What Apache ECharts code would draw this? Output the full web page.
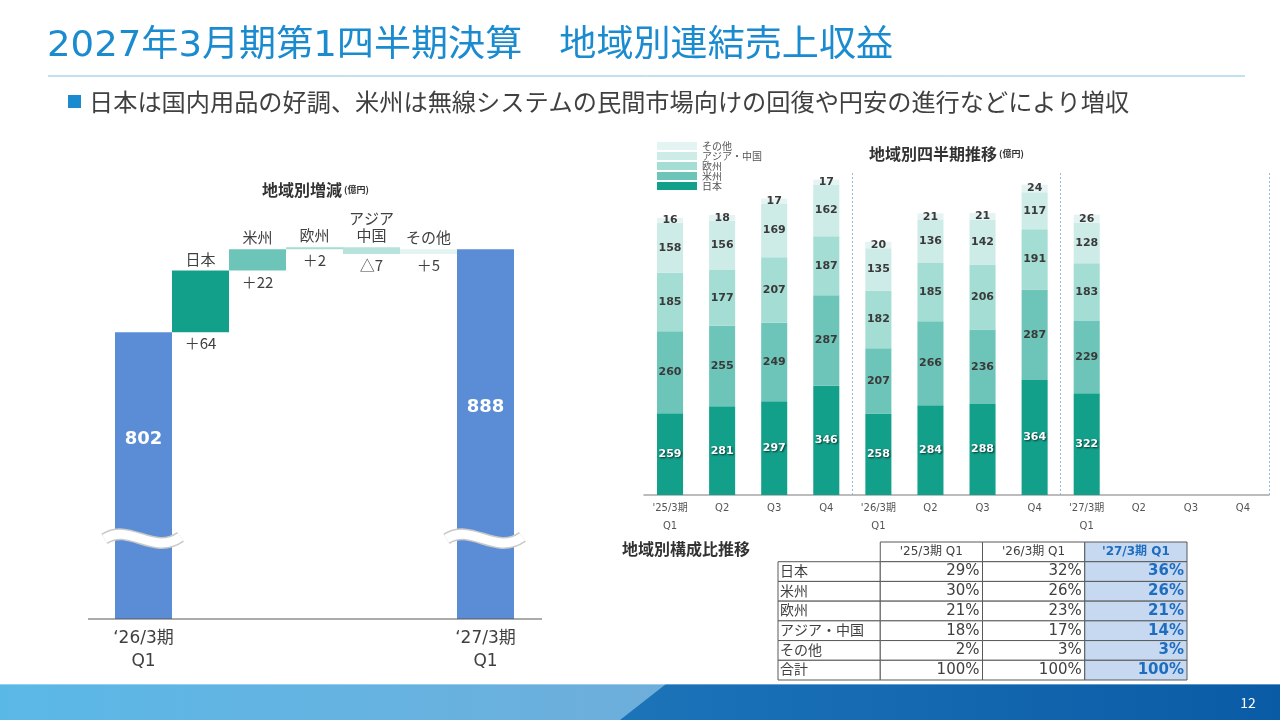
<!DOCTYPE html>
<html>
<head>
<meta charset="utf-8">
<script src="https://cdn.jsdelivr.net/npm/echarts@6/dist/echarts.min.js"></script>
<style>
  html, body { margin: 0; padding: 0; background: #fff; }
  #main { width: 1280px; height: 720px; }
</style>
</head>
<body>
<div id="main"></div>
<script>
// ---- waterfall (地域別増減) ----
var wfCategories = ['‘26/3期\nQ1', '日本', '米州', '欧州', 'アジア\n中国', 'その他', '‘27/3期\nQ1'];
var wfValues = [802, 64, 22, 2, -7, 5, 888];
var wfDeltaLabels = ['', '＋64', '＋22', '＋2', '△7', '＋5', ''];
var wfBreakAt = 587;

// ---- quarterly stacked (地域別四半期推移) ----
var qCategories = ["'25/3期\nQ1", 'Q2', 'Q3', 'Q4', "'26/3期\nQ1", 'Q2', 'Q3', 'Q4', "'27/3期\nQ1", 'Q2', 'Q3', 'Q4'];
var japan     = [259, 281, 297, 346, 258, 284, 288, 364, 322, null, null, null];
var americas  = [260, 255, 249, 287, 207, 266, 236, 287, 229, null, null, null];
var europe    = [185, 177, 207, 187, 182, 185, 206, 191, 183, null, null, null];
var asiaChina = [158, 156, 169, 162, 135, 136, 142, 117, 128, null, null, null];
var others    = [16, 18, 17, 17, 20, 21, 21, 24, 26, null, null, null];
var regionNames = ['日本', '米州', '欧州', 'アジア・中国', 'その他'];
var regionColors = ['#12a08b', '#6cc5b8', '#a3ddd4', '#cdebe7', '#e4f4f2'];

// ---- table (地域別構成比推移) ----
var tableHeader = ['', "'25/3期 Q1", "'26/3期 Q1", "'27/3期 Q1"];
var tableRows = ['日本', '米州', '欧州', 'アジア・中国', 'その他', '合計'];
var share25 = [29, 30, 21, 18, 2, 100];
var share26 = [32, 26, 23, 17, 3, 100];
var share27 = [36, 26, 21, 14, 3, 100];

var JP = "'Noto Sans CJK JP', sans-serif";
var NUM = "'DejaVu Sans', 'Noto Sans CJK JP', sans-serif";
var totalBlue = '#5a8dd5';

// waterfall base / visible bars
var wfBase = [], wfBar = [];
var running = 0;
wfValues.forEach(function (v, i) {
  var isTotal = (i === 0 || i === wfValues.length - 1);
  if (isTotal) {
    wfBase.push(0);
    wfBar.push({
      value: v,
      itemStyle: { color: totalBlue },
      label: { position: 'insideTop', distance: i === 0 ? 99 : 150, color: '#fff', fontSize: 18, fontWeight: 'bold', fontFamily: NUM }
    });
    running = v;
  } else if (v >= 0) {
    wfBase.push(running);
    wfBar.push({ value: v, itemStyle: { color: regionColors[i - 1] } });
    running += v;
  } else {
    running += v;
    wfBase.push(running);
    wfBar.push({ value: -v, itemStyle: { color: '#b8e2dc' } });
  }
});

// table cells
var tableCells = [];
var tableData = [];
for (var r = 0; r <= tableRows.length; r++) {
  for (var c = 0; c < 4; c++) {
    var txt;
    if (r === 0) txt = tableHeader[c];
    else if (c === 0) txt = tableRows[r - 1];
    else txt = [share25, share26, share27][c - 1][r - 1] + '%';
    tableCells.push({ r: r, c: c, text: txt });
    tableData.push([c, r]);
  }
}

function renderCell(params, api) {
  var c = api.value(0), r = api.value(1);
  var p = api.coord([c, r]);
  var s = api.size([1, 1]);
  var x0 = p[0] - s[0] / 2, y0 = p[1] - s[1] / 2;
  var cell = tableCells[params.dataIndex];
  var hl = c === 3;
  var children = [];
  if (!(r === 0 && c === 0)) {
    children.push({
      type: 'rect',
      shape: { x: x0, y: y0, width: s[0], height: s[1] },
      style: { fill: hl ? '#c6d9f1' : '#fff', stroke: '#595959', lineWidth: 1 }
    });
  }
  var align = r === 0 ? 'center' : (c === 0 ? 'left' : 'right');
  var tx = align === 'center' ? p[0] : (align === 'left' ? x0 + 2 : x0 + s[0] - 3);
  var font;
  if (r === 0) font = (hl ? 'bold ' : '') + '12px ' + NUM;
  else if (c === 0) font = '14px ' + JP;
  else font = (hl ? 'bold ' : '') + '15px ' + NUM;
  children.push({
    type: 'text',
    style: {
      text: cell.text, x: tx, y: (r > 0 && c === 0) ? p[1] - 1 : p[1],
      align: align, textAlign: align, verticalAlign: 'middle', textVerticalAlign: 'middle',
      fill: hl ? '#1f6dbf' : '#404040', font: font
    }
  });
  return { type: 'group', children: children };
}

var stackSeries = [japan, americas, europe, asiaChina, others].map(function (d, i) {
  return {
    name: regionNames[i],
    type: 'bar',
    stack: 'q',
    xAxisIndex: 1,
    yAxisIndex: 1,
    barWidth: '50%',
    data: d,
    itemStyle: { color: regionColors[i] },
    label: i === 0 ? {
      show: true, position: 'inside', color: '#fff', fontSize: 11, fontWeight: 'bold', fontFamily: NUM,
      textShadowColor: 'rgba(0,0,0,0.7)', textShadowBlur: 2, textShadowOffsetX: 1, textShadowOffsetY: 1
    } : {
      show: true, position: 'inside', color: '#3a3a3a', fontSize: 11, fontWeight: 'bold', fontFamily: NUM
    }
  };
});

var chart = echarts.init(document.getElementById('main'));

var option = {
  animation: false,
  textStyle: { fontFamily: JP },
  legend: {
    data: regionNames.slice().reverse(),
    orient: 'vertical',
    left: 657,
    top: 141,
    padding: 0,
    icon: 'rect',
    itemWidth: 40,
    itemHeight: 8,
    itemGap: 0,
    selectedMode: false,
    textStyle: { fontSize: 10, lineHeight: 10, color: '#555', fontFamily: JP }
  },
  grid: [
    { left: 115, width: 399, top: 199, bottom: 101 },
    { left: 644, width: 625, top: 173, bottom: 225 },
    { left: 778, width: 409, top: 542, height: 138 }
  ],
  xAxis: [
    {
      gridIndex: 0, type: 'category', data: wfCategories,
      axisLine: { show: false }, axisTick: { show: false },
      axisLabel: {
        interval: 0, margin: 8, fontSize: 17, lineHeight: 23, color: '#404040', fontFamily: NUM,
        formatter: function (v, i) { return (i === 0 || i === wfCategories.length - 1) ? v : ''; }
      }
    },
    {
      gridIndex: 1, type: 'category', data: qCategories,
      axisLine: { show: true, lineStyle: { color: '#a6a6a6', width: 1.5 } },
      axisTick: { show: false },
      axisLabel: { interval: 0, margin: 4, fontSize: 10, lineHeight: 18, color: '#555', fontFamily: NUM },
      splitLine: {
        show: true,
        interval: function (i) { return i === 4 || i === 8; },
        lineStyle: { color: '#9cb9de', type: [2, 2], width: 1 }
      }
    },
    { gridIndex: 2, type: 'category', data: [0, 1, 2, 3], show: false }
  ],
  yAxis: [
    { gridIndex: 0, type: 'value', min: 505, max: 940, show: false, splitLine: { show: false } },
    { gridIndex: 1, type: 'value', min: 0, max: 1020, show: false, splitLine: { show: false } },
    { gridIndex: 2, type: 'category', data: [0, 1, 2, 3, 4, 5, 6], inverse: true, show: false }
  ],
  series: [
    {
      name: 'wf-base', type: 'bar', stack: 'wf', xAxisIndex: 0, yAxisIndex: 0,
      barCategoryGap: 0, data: wfBase,
      itemStyle: { color: 'transparent' },
      label: {
        show: true, position: 'insideTop', distance: 4, color: '#404040', fontSize: 15, fontFamily: JP,
        formatter: function (p) { return wfDeltaLabels[p.dataIndex]; }
      }
    },
    {
      name: 'wf-bar', type: 'bar', stack: 'wf', xAxisIndex: 0, yAxisIndex: 0,
      barCategoryGap: 0, data: wfBar,
      label: {
        show: true, position: 'top', distance: 3, color: '#404040', fontSize: 15, lineHeight: 17, fontFamily: JP,
        formatter: function (p) {
          var i = p.dataIndex;
          return (i === 0 || i === wfValues.length - 1) ? String(wfValues[i]) : wfCategories[i];
        }
      }
    }
  ].concat(stackSeries).concat([
    {
      name: 'table', type: 'custom', xAxisIndex: 2, yAxisIndex: 2,
      renderItem: renderCell, data: tableData, encode: { x: 0, y: 1 }
    }
  ])
};

chart.setOption(option);

// decorations: header, titles, footer, axis baseline and break marks
function breakMark(cx, cy) {
  var shape = { x1: cx - 39, y1: cy - 1, cpx1: cx - 14, cpy1: cy - 17, cpx2: cx + 10, cpy2: cy + 16, x2: cx + 37, y2: cy - 3 };
  return [
    { type: 'bezierCurve', shape: shape, style: { stroke: '#c9c9c9', lineWidth: 12, fill: null }, z: 10 },
    { type: 'bezierCurve', shape: shape, style: { stroke: '#fff', lineWidth: 9, fill: null }, z: 11 }
  ];
}
var pA = chart.convertToPixel({ xAxisIndex: 0, yAxisIndex: 0 }, [0, wfBreakAt]);
var pB = chart.convertToPixel({ xAxisIndex: 0, yAxisIndex: 0 }, [wfCategories.length - 1, wfBreakAt]);
var pBase = chart.convertToPixel({ xAxisIndex: 0, yAxisIndex: 0 }, [0, 505]);

var titleFont = "36px 'DejaVu Sans', 'Noto Sans CJK JP', sans-serif";
var graphics = [
  { type: 'text', x: 47, y: 47, scaleX: 1.03, style: { text: '2027年3月期第1四半期決算　地域別連結売上収益', x: 0, y: 0, verticalAlign: 'middle', textVerticalAlign: 'middle', fill: '#1b8bd0', font: titleFont } },
  { type: 'line', shape: { x1: 48, y1: 76, x2: 1245, y2: 76 }, style: { stroke: '#86c3e2', lineWidth: 1 } },
  { type: 'rect', shape: { x: 68, y: 95, width: 13, height: 13 }, style: { fill: '#1b8bd0' } },
  { type: 'text', style: { text: '日本は国内用品の好調、米州は無線システムの民間市場向けの回復や円安の進行などにより増収', x: 89, y: 102, verticalAlign: 'middle', textVerticalAlign: 'middle', fill: '#404040', font: '24.2px ' + JP } },
  { type: 'text', style: {
      text: '{a|地域別増減}{b| (億円)}', x: 262, y: 190, verticalAlign: 'middle', textVerticalAlign: 'middle',
      rich: { a: { fontSize: 16, fontWeight: 'bold', fill: '#333', color: '#333', fontFamily: JP }, b: { fontSize: 9, fontWeight: 'bold', fill: '#333', color: '#333', fontFamily: JP } }
  } },
  { type: 'text', style: {
      text: '{a|地域別四半期推移}{b| (億円)}', x: 869, y: 154, verticalAlign: 'middle', textVerticalAlign: 'middle',
      rich: { a: { fontSize: 16, fontWeight: 'bold', fill: '#333', color: '#333', fontFamily: JP }, b: { fontSize: 9, fontWeight: 'bold', fill: '#333', color: '#333', fontFamily: JP } }
  } },
  { type: 'text', style: { text: '地域別構成比推移', x: 622, y: 549, verticalAlign: 'middle', textVerticalAlign: 'middle', fill: '#333', font: 'bold 16px ' + JP } },
  { type: 'line', shape: { x1: 88, y1: pBase[1], x2: 542, y2: pBase[1] }, style: { stroke: '#595959', lineWidth: 1.2 }, z: 12 },
  // footer band
  { type: 'rect', shape: { x: 0, y: 684, width: 1280, height: 36 }, style: { fill: new echarts.graphic.LinearGradient(0, 0, 1, 0, [{ offset: 0, color: '#2d8bcb' }, { offset: 1, color: '#0a5ba5' }]) } },
  { type: 'polygon', shape: { points: [[0, 684], [666, 684], [620, 720], [0, 720]] }, style: { fill: new echarts.graphic.LinearGradient(0, 0, 1, 0, [{ offset: 0, color: '#5ab8e7' }, { offset: 1, color: '#6eaedb' }]) } },
  { type: 'line', shape: { x1: 0, y1: 684.5, x2: 1280, y2: 684.5 }, style: { stroke: 'rgba(255,255,255,0.35)', lineWidth: 1 } },
  { type: 'text', style: { text: '12', x: 1248, y: 703, align: 'center', textAlign: 'center', verticalAlign: 'middle', textVerticalAlign: 'middle', fill: '#fff', font: '14px ' + JP } }
].concat(breakMark(pA[0], pA[1])).concat(breakMark(pB[0], pB[1]));

chart.setOption({ graphic: graphics });
</script>
</body>
</html>
